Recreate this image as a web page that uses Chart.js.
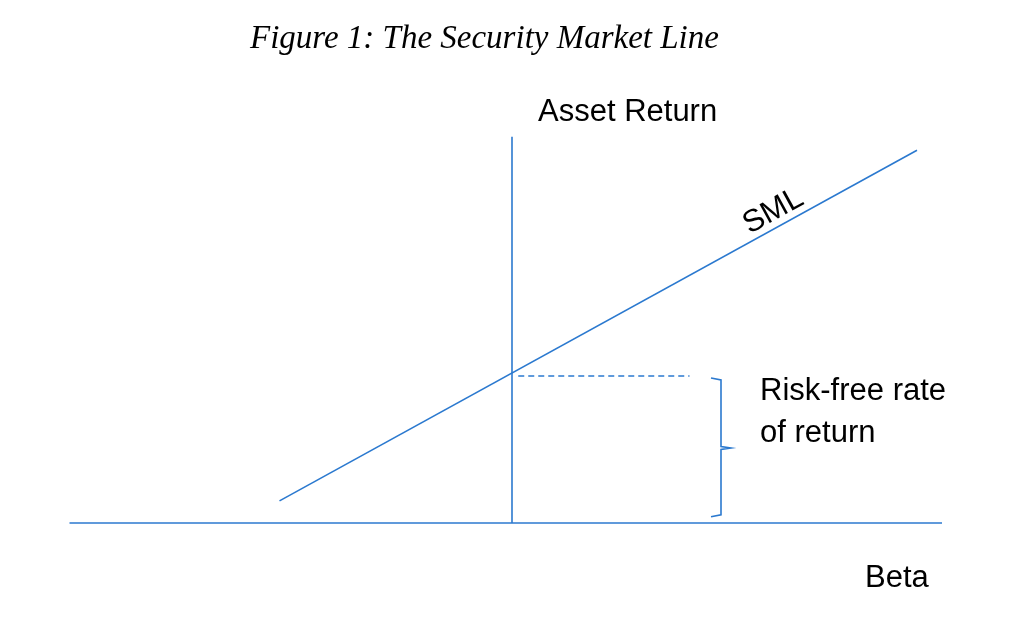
<!DOCTYPE html>
<html><head><meta charset="utf-8">
<script src="https://cdn.jsdelivr.net/npm/chart.js@4/dist/chart.umd.min.js"></script>
<style>html,body{margin:0;padding:0;background:#fff}#wrap{width:1023px;height:635px}</style>
</head><body><div id="wrap"><canvas id="c" width="1023" height="635"></canvas></div>
<script>
// Data (beta on x, return in % on y)
const riskFree = 6;
const marketPremium = 5.5;
const smlBetas = [-0.93, 1.62];
const smlReturns = smlBetas.map(b => riskFree + marketPremium * b);
const xAxisBetas = [-1.77, 1.72];
const yAxisReturns = [0, 15.45];
const dashedBetas = [0.025, 0.71];
const braceBetas = [0.796, 0.836, 0.876];
const braceReturns = [5.8, 3.0, 0.25];
const labels = {title:'Figure 1: The Security Market Line', yName:'Asset Return', xName:'Beta', sml:'SML', rf1:'Risk-free rate', rf2:'of return'};

const blue = '#2b79cf';
const pts = (xs, ys) => xs.map((x,i)=>({x, y: ys[i]}));
const braceX = [braceBetas[0], braceBetas[1], braceBetas[1], braceBetas[2], braceBetas[1], braceBetas[1], braceBetas[0]];
const braceY = [braceReturns[0], braceReturns[0]-0.08, braceReturns[1]+0.06, braceReturns[1], braceReturns[1]-0.06, braceReturns[2]+0.08, braceReturns[2]];

const textPlugin = {
  id:'texts',
  afterDraw(chart){
    const ctx = chart.ctx, xs = chart.scales.x, ys = chart.scales.y;
    ctx.save();
    ctx.fillStyle = '#000';
    ctx.textBaseline = 'alphabetic';
    ctx.font = 'italic 33px "Liberation Serif"';
    ctx.fillText(labels.title, 250, 48);
    ctx.font = '31px "Liberation Sans"';
    ctx.fillText(labels.yName, xs.getPixelForValue(0.104), ys.getPixelForValue(16.1));
    ctx.fillText(labels.rf1, xs.getPixelForValue(0.992), ys.getPixelForValue(4.93));
    ctx.fillText(labels.rf2, xs.getPixelForValue(0.992), ys.getPixelForValue(3.25));
    ctx.fillText(labels.xName, xs.getPixelForValue(1.412), ys.getPixelForValue(-2.56));
    const ang = Math.atan2(ys.getPixelForValue(smlReturns[1]) - ys.getPixelForValue(smlReturns[0]), xs.getPixelForValue(smlBetas[1]) - xs.getPixelForValue(smlBetas[0]));
    ctx.translate(xs.getPixelForValue(0.95), ys.getPixelForValue(11.55));
    ctx.rotate(ang);
    ctx.fillText(labels.sml, 0, 0);
    ctx.restore();
  }
};

const lineDs = (data, extra) => Object.assign({data, borderColor: blue, borderWidth: 1.6, pointRadius: 0, showLine: true, fill:false, tension:0}, extra||{});

new Chart(document.getElementById('c'), {
  type: 'scatter',
  data: { datasets: [
    lineDs(pts(xAxisBetas, [0,0])),
    lineDs(pts([0,0], yAxisReturns)),
    lineDs(pts(smlBetas, smlReturns)),
    lineDs(pts(dashedBetas, [riskFree-0.12, riskFree-0.12]), {borderDash:[6,4], borderWidth:1.5}),
    lineDs(pts(braceX, braceY), {borderWidth:1.6})
  ]},
  options: {
    responsive:false, animation:false,
    layout:{padding:0},
    plugins:{legend:{display:false}, tooltip:{enabled:false}, title:{display:false}},
    scales:{
      x:{type:'linear', display:false, min:-2.048, max:2.044},
      y:{type:'linear', display:false, min:-4.48, max:20.92}
    }
  },
  plugins:[textPlugin]
});
</script></body></html>
